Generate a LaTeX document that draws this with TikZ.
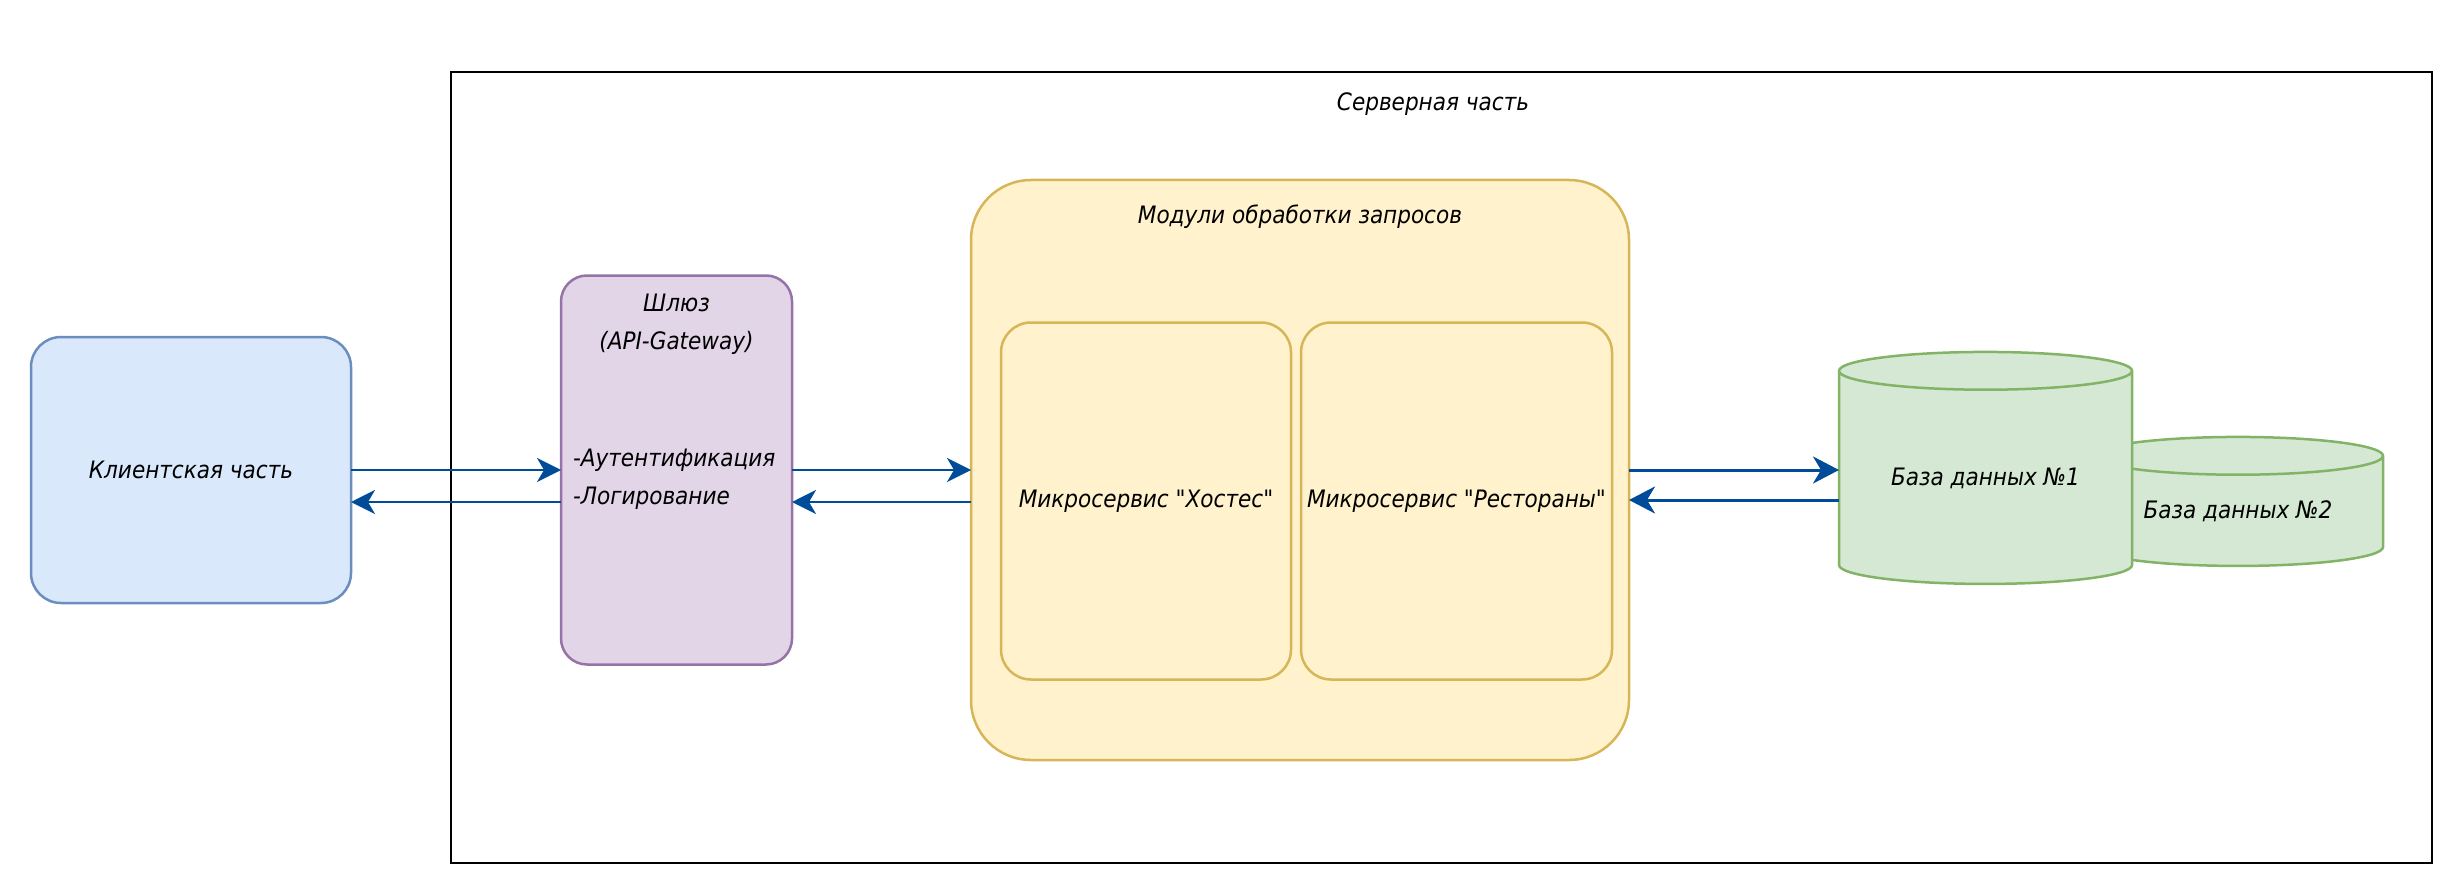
\documentclass[tikz,border=0pt]{standalone}
\usepackage{fontspec}
\newfontfamily\shrift{DejaVu Sans Condensed}[ItalicFont={* Oblique}]
\usetikzlibrary{positioning, shapes.geometric, arrows.meta}

\definecolor{klientfill}{HTML}{DAE8FC}
\definecolor{klientline}{HTML}{6C8EBF}
\definecolor{shlyuzfill}{HTML}{E1D5E7}
\definecolor{shlyuzline}{HTML}{9673A6}
\definecolor{modulfill}{HTML}{FFF2CC}
\definecolor{modulline}{HTML}{D6B656}
\definecolor{bazafill}{HTML}{D5E8D4}
\definecolor{bazaline}{HTML}{82B366}
\definecolor{strelka}{HTML}{004C99}

\begin{document}
\begin{tikzpicture}[
x=1pt, y=-1pt,
every node/.style={font=\fontsize{24pt}{38pt}\selectfont\shrift\itshape, inner sep=0pt, outer sep=0pt},
server/.style={rectangle, draw=black, line width=2pt, minimum width=1981pt, minimum height=791pt},
klient/.style={rectangle, rounded corners=30pt, draw=klientline, fill=klientfill, line width=2.5pt, minimum width=320pt, minimum height=266pt},
shlyuz/.style={rectangle, rounded corners=26pt, draw=shlyuzline, fill=shlyuzfill, line width=2.5pt, minimum width=231pt, minimum height=389pt},
modul/.style={rectangle, rounded corners=60pt, draw=modulline, fill=modulfill, line width=2.5pt, minimum width=658pt, minimum height=580pt},
servis/.style={rectangle, rounded corners=30pt, draw=modulline, fill=modulfill, line width=2.5pt, minimum height=357pt},
baza/.style={cylinder, shape border rotate=90, aspect=0.2, draw=bazaline, fill=bazafill, line width=2.5pt},
strel/.style={draw=strelka, line width=2.3pt, -{Stealth[length=24pt, width=24pt, inset=7pt]}},
strelb/.style={draw=strelka, line width=3pt, -{Stealth[length=26pt, width=27pt, inset=8pt]}}
]
\useasboundingbox (0,0) rectangle (2463,896);
%Nodes
\node[server]	(server)		at (1441.5,467.5)		{};
\node			(server_t)		at (1433,104)			{Серверная часть};
\node[klient]	(klient)		at (191,470)			{Клиентская часть};
\node[shlyuz]	(shlyuz)		[right= 210pt of klient]	{};
\node			(shlyuz_t)		at (676.5,324)			[align=center]	{Шлюз\\(API-Gateway)};
\node			(shlyuz_f)		at (573,479)			[anchor=west, align=left]	{-Аутентификация\\-Логирование};
\node[modul]	(moduli)		[right= 179pt of shlyuz]	{};
\node			(moduli_t)		at (1300,217)			{Модули обработки запросов};
\node[servis]	(hostes)		at (1146,501)			[minimum width=290pt]	{Микросервис "Хостес"};
\node[servis]	(restorany)		[right= 10pt of hostes, minimum width=311pt]	{Микросервис "Рестораны"};
\node[baza]		(baza2)			at (2238,511.5)			[minimum width=290pt, minimum height=129pt]	{База данных №2};
\node[baza]		(baza1)			[right= 210pt of moduli, yshift=-8pt, minimum width=293pt, minimum height=232pt]	{База данных №1};
\coordinate		(m_vyh)			at ([yshift=-30pt]moduli.east);

%Lines
\draw[strel] (klient.east)					--	(shlyuz.west);
\draw[strel] ([yshift=-32pt]shlyuz.west)	--	([yshift=-32pt]klient.east);
\draw[strel] (shlyuz.east)					--	(moduli.west);
\draw[strel] ([yshift=-32pt]moduli.west)	--	([yshift=-32pt]shlyuz.east);
\draw[strelb] (moduli.east)					--	(moduli.east -| baza1.west);
\draw[strelb] (m_vyh -| baza1.west)			--	(m_vyh);

\end{tikzpicture}
\end{document}
